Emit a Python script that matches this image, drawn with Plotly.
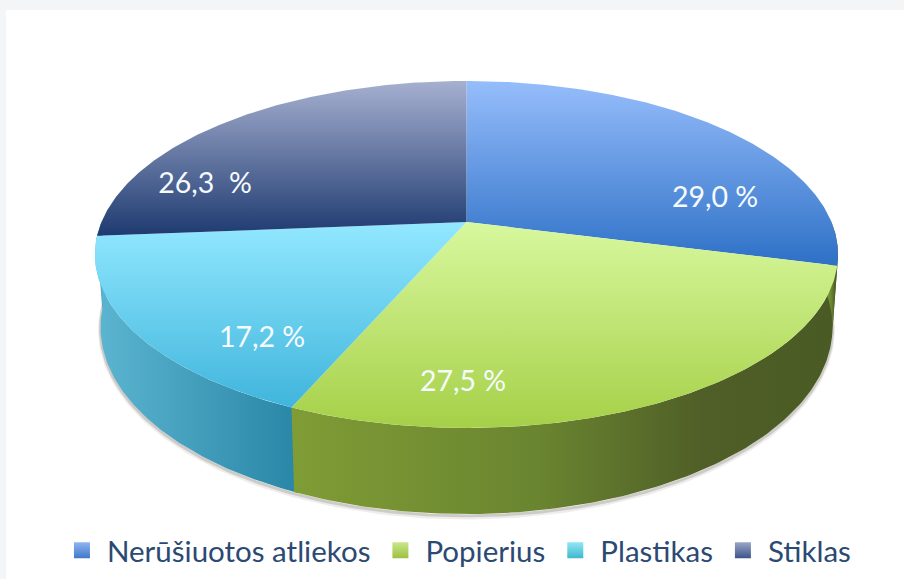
import numpy as np
import plotly.graph_objects as go

categories = ["Nerūšiuotos atliekos", "Popierius", "Plastikas", "Stiklas"]
values = [29.0, 27.5, 17.2, 26.3]
value_labels = ["29,0 %", "27,5 %", "17,2 %", "26,3  %"]

# label anchor (screen pixels) and styling, kept apart from the data
label_x = [715, 463, 262, 205]
label_y = [200, 384, 340, 186]
top_colors = [["#2d70c6", "#96bdfb"], ["#a6d048", "#d8f89e"],
              ["#40b5dc", "#92e8ff"], ["#1e3a70", "#a6b0d0"]]
wall_green = [[0, "#7f9c35"], [0.45, "#6a8530"], [0.75, "#505f27"], [1, "#4a5a24"]]
wall_cyan = [[0, "#5cb6d2"], [1, "#2a86a6"]]
side_colors = [wall_green, wall_green, wall_cyan, wall_cyan]
swatch_top = ["#8fb4f0", "#c8e68a", "#8fe6f5", "#98a6c8"]
swatch_bottom = ["#3f78c8", "#9cc040", "#3fb8cc", "#3d5488"]

# projection of the tilted disc
CX, CY, A, B, K, H, FLOOR_SCALE = 466.5, 222.0, 365.0, 167.4, 0.187, 70.0, 0.985


def project(theta, r=1.0, drop=0.0, scale=1.0):
    u, v = r * np.sin(theta), -r * np.cos(theta)
    w = 1 - K * v
    return CX + scale * A * u / w, CY + (B * v + drop) / w


fig = go.Figure()
bounds = np.cumsum([0] + values) / sum(values) * 2 * np.pi


def grad(stops, kind):
    return dict(type=kind, colorscale=stops)


# soft edge under the wall
rim = np.linspace(np.pi / 2, 3 * np.pi / 2, 300)
for width, alpha, extra in [(5, 0.10, 2.5), (3, 0.22, 1.5)]:
    xs, ys = project(rim, drop=H + extra, scale=FLOOR_SCALE)
    fig.add_trace(go.Scatter(
        x=xs, y=ys, mode="lines",
        line=dict(width=width, color=f"rgba(90,80,70,{alpha})"),
        hoverinfo="skip", showlegend=False))

# side walls (only the front-facing part of the rim)
for i in [3, 2, 1, 0]:
    a0, a1 = bounds[i], bounds[i + 1]
    lo, hi = max(a0 - 0.01, np.pi / 2), min(a1, 3 * np.pi / 2)
    if hi <= lo:
        continue
    t = np.linspace(lo, hi, 120)
    xt, yt = project(t)
    xb, yb = project(t[::-1], drop=H, scale=FLOOR_SCALE)
    fig.add_trace(go.Scatter(
        x=np.r_[xt, xb], y=np.r_[yt, yb], mode="lines", fill="toself",
        line=dict(width=0, color="rgba(0,0,0,0)"),
        fillgradient=grad(side_colors[i], "horizontal"),
        hoverinfo="skip", showlegend=False))

# top faces
for i in range(4):
    t = np.linspace(bounds[i], bounds[i + 1], 160)
    xt, yt = project(t)
    fig.add_trace(go.Scatter(
        x=np.r_[CX, xt, CX], y=np.r_[CY, yt, CY], mode="lines", fill="toself",
        line=dict(width=0, color="rgba(0,0,0,0)"),
        fillgradient=grad([[0, top_colors[i][0]], [1, top_colors[i][1]]], "vertical"),
        hoverinfo="skip", showlegend=False))

# value labels
fig.add_trace(go.Scatter(
    x=label_x, y=label_y, text=value_labels, mode="text",
    textposition="middle center",
    textfont=dict(family="Lato, sans-serif", size=28.5, color="#f6fbff"),
    hoverinfo="skip", showlegend=False))

# legend entries
for name, c0, c1 in zip(categories, swatch_top, swatch_bottom):
    fig.add_trace(go.Scatter(
        x=[-100], y=[-100], mode="markers", name=name,
        marker=dict(symbol="square", size=17, color=c0,
                    gradient=dict(type="vertical", color=c1))))

fig.update_layout(
    width=904, height=579, autosize=False,
    margin=dict(l=0, r=0, t=0, b=0),
    paper_bgcolor="#f4f5f6", plot_bgcolor="rgba(0,0,0,0)",
    xaxis=dict(range=[0, 904], visible=False, fixedrange=True),
    yaxis=dict(range=[579, 0], visible=False, fixedrange=True),
    legend=dict(orientation="h", x=0.063, xanchor="left", y=0.004, yanchor="bottom",
                font=dict(family="Lato, sans-serif", size=29.5, color="#2b4a73"),
                itemsizing="trace", itemwidth=40,
                bgcolor="rgba(0,0,0,0)"),
    shapes=[dict(type="rect", xref="x", yref="y", x0=6, x1=904, y0=10, y1=579,
                 fillcolor="white", line=dict(width=0), layer="below")],
)
fig.write_html("out.html", config={"displayModeBar": False},
               post_script="document.body.style.margin='0';document.body.style.overflow='hidden';")
